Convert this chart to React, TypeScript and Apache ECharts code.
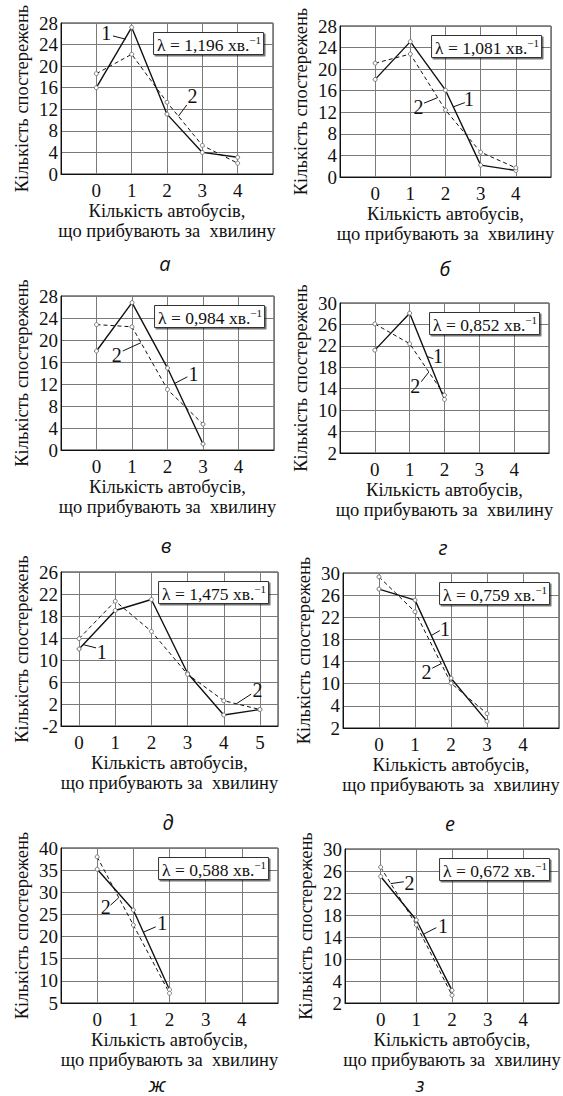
import React, { useEffect, useRef } from "react";
import * as echarts from "echarts";

// ---------- data ----------
const panelLetters = ["а", "б", "в", "г", "д", "е", "ж", "з"];
const lambdas = ["1,196", "1,081", "0,984", "0,852", "1,475", "0,759", "0,588", "0,672"];

const xLabels5 = ["0", "1", "2", "3", "4"];
const xLabels6 = ["0", "1", "2", "3", "4", "5"];

const yLabels0to28 = ["0", "4", "8", "12", "16", "20", "24", "28"];
const yLabels2to30 = ["2", "4", "10", "14", "18", "22", "26", "30"];
const yLabelsM2to26 = ["-2", "2", "6", "10", "14", "18", "22", "26"];
const yLabels5to40 = ["5", "10", "15", "20", "25", "30", "35", "40"];

// observed (1, solid) and theoretical (2, dashed)
const obsA = [16, 27.2, 11.1, 4.0, 3.1];
const theoA = [18.6, 22.2, 13.3, 5.3, 2.0];
const obsB = [18.1, 25.1, 16.1, 2.2, 1.2];
const theoB = [21.1, 22.8, 12.4, 4.6, 1.7];
const obsV = [18, 26.8, 14.9, 1.1];
const theoV = [22.8, 22.4, 11.0, 4.7];
const obsG = [21.2, 28.1, 12.0];
const theoG = [26.1, 22.4, 12.8];
const obsD = [12, 19, 21, 7.6, 0, 1];
const theoD = [13.9, 20.7, 15.2, 7.4, 2.6, 1.0];
const obsE = [27.1, 25.1, 11, 3.2];
const theoE = [29.3, 23.0, 10.1, 4.6];
const obsZh = [35.2, 26, 8];
const theoZh = [38, 22.6, 7.2];
const obsZ = [25, 17.1, 4.3];
const theoZ = [26.7, 16.2, 3.4];

// annotation: [labelX, labelY, leaderX1, leaderY1, leaderX2, leaderY2]
const notes1 = [
  [0.28, 26.1, 0.47, 25.6, 0.83, 25.0],
  [2.67, 14.4, 2.55, 13.8, 2.22, 13.0],
  [2.73, 13.8, 2.56, 13.3, 2.2, 12.1],
  [1.81, 20.1, 1.68, 19.6, 1.5, 20.0],
  [0.63, 11.5, 0.47, 12.2, 0.11, 12.8],
  [1.83, 19.9, 1.69, 19.6, 1.45, 18.7],
  [1.8, 23.0, 1.62, 22.2, 1.28, 21.0],
  [1.75, 16.0, 1.56, 15.7, 1.2, 14.5],
];
const notes2 = [
  [2.72, 14.4, 2.56, 12.8, 2.32, 10.7],
  [1.23, 13.0, 1.39, 13.7, 1.77, 14.7],
  [0.57, 17.2, 0.74, 18.0, 1.25, 19.5],
  [1.16, 14.5, 1.33, 15.3, 1.55, 17.1],
  [4.93, 4.5, 4.76, 3.8, 4.36, 2.1],
  [1.32, 12.1, 1.48, 12.8, 1.72, 13.6],
  [0.24, 26.6, 0.37, 27.1, 0.6, 28.8],
  [0.81, 23.9, 0.65, 24.05, 0.28, 23.7],
];

// ---------- layout ----------
const grids = [
  { left: 61, top: 23, width: 212, height: 151 },
  { left: 340, top: 26, width: 211, height: 151 },
  { left: 61, top: 296, width: 213, height: 154 },
  { left: 340, top: 303, width: 209, height: 150 },
  { left: 61, top: 572, width: 217, height: 154 },
  { left: 343, top: 573, width: 216, height: 155 },
  { left: 61, top: 848, width: 217, height: 155 },
  { left: 345, top: 849, width: 214, height: 154 },
];
const letterPos = [
  [165, 263], [445, 268], [166, 545], [443, 547],
  [168, 822], [450, 823], [157, 1084], [420, 1084],
];

const panels = [
  { obs: obsA, theo: theoA, yMin: 0, yMax: 28, yInt: 4, yLabels: yLabels0to28, xMin: -1, xMax: 5, xLabels: xLabels5 },
  { obs: obsB, theo: theoB, yMin: 0, yMax: 28, yInt: 4, yLabels: yLabels0to28, xMin: -1, xMax: 5, xLabels: xLabels5 },
  { obs: obsV, theo: theoV, yMin: 0, yMax: 28, yInt: 4, yLabels: yLabels0to28, xMin: -1, xMax: 5, xLabels: xLabels5 },
  { obs: obsG, theo: theoG, yMin: 2, yMax: 30, yInt: 4, yLabels: yLabels2to30, xMin: -1, xMax: 5, xLabels: xLabels5 },
  { obs: obsD, theo: theoD, yMin: -2, yMax: 26, yInt: 4, yLabels: yLabelsM2to26, xMin: -0.5, xMax: 5.5, xLabels: xLabels6 },
  { obs: obsE, theo: theoE, yMin: 2, yMax: 30, yInt: 4, yLabels: yLabels2to30, xMin: -1, xMax: 5, xLabels: xLabels5 },
  { obs: obsZh, theo: theoZh, yMin: 5, yMax: 40, yInt: 5, yLabels: yLabels5to40, xMin: -1, xMax: 5, xLabels: xLabels5 },
  { obs: obsZ, theo: theoZ, yMin: 2, yMax: 30, yInt: 4, yLabels: yLabels2to30, xMin: -1, xMax: 5, xLabels: xLabels5 },
];

const SERIF = "Liberation Serif";
const INK = "#111";

function annotation(n: number[], text: string) {
  return {
    markLine: {
      silent: true,
      symbol: ["none", "none"],
      label: { show: false },
      lineStyle: { color: INK, width: 1, type: "solid" },
      data: [[{ coord: [n[2], n[3]] }, { coord: [n[4], n[5]] }]],
    },
    markPoint: {
      silent: true,
      symbol: "circle",
      symbolSize: 1,
      itemStyle: { color: "rgba(0,0,0,0)" },
      label: {
        show: true,
        position: "inside",
        formatter: text,
        fontFamily: SERIF,
        fontSize: 20,
        color: INK,
      },
      data: [{ coord: [n[0], n[1]] }],
    },
  };
}

export default function App() {
  const ref = useRef<HTMLDivElement>(null);
  useEffect(() => {
    if (!ref.current) return;
    const chart = echarts.init(ref.current, null, { renderer: "svg" });

    const option: any = {
      animation: false,
      backgroundColor: "#fff",
      grid: grids.map((g) => ({
        ...g,
        show: true,
        borderColor: "#222",
        borderWidth: 1,
        backgroundColor: "transparent",
      })),
      xAxis: panels.map((p, i) => ({
        type: "value",
        gridIndex: i,
        min: p.xMin,
        max: p.xMax,
        minInterval: 1,
        maxInterval: 1,
        axisLine: { show: true, onZero: false, lineStyle: { color: INK, width: 1 } },
        axisTick: { show: false },
        splitLine: { show: true, lineStyle: { color: "#7a7a7a", width: 1 } },
        axisLabel: {
          margin: 7,
          fontFamily: SERIF,
          fontSize: 19,
          color: INK,
          showMinLabel: true,
          showMaxLabel: true,
          formatter: (v: number) =>
            Number.isInteger(v) && v >= 0 && v < p.xLabels.length ? p.xLabels[v] : "",
        },
        name: "Кількість автобусів,\nщо прибувають за  хвилину",
        nameLocation: "middle",
        nameGap: 25,
        nameTextStyle: { fontFamily: SERIF, fontSize: 18.5, lineHeight: 20, color: INK },
      })),
      yAxis: panels.map((p, i) => ({
        type: "value",
        gridIndex: i,
        min: p.yMin,
        max: p.yMax,
        interval: p.yInt,
        axisLine: { show: true, onZero: false, lineStyle: { color: INK, width: 1 } },
        axisTick: { show: false },
        splitLine: { show: true, lineStyle: { color: "#7a7a7a", width: 1 } },
        axisLabel: {
          margin: 3,
          fontFamily: SERIF,
          fontSize: 19,
          color: INK,
          formatter: (v: number) => {
            const k = Math.round((v - p.yMin) / p.yInt);
            return p.yLabels[k] ?? "";
          },
        },
        name: "Кількість спостережень",
        nameLocation: "middle",
        nameGap: 30,
        nameTextStyle: { fontFamily: SERIF, fontSize: 18.5, color: INK },
      })),
      title: grids.map((g, i) => ({
        text: `{a|λ = ${lambdas[i]} хв.}{s|−1}`,
        right: 563 - (g.left + g.width) + 9,
        top: g.top + 9,
        padding: [2, 3, 1, 4],
        backgroundColor: "#fff",
        borderColor: "#333",
        borderWidth: 1,
        shadowColor: "rgba(0,0,0,0.55)",
        shadowOffsetX: 1.5,
        shadowOffsetY: 1.5,
        shadowBlur: 0,
        textStyle: {
          fontWeight: "normal",
          rich: {
            a: { fontFamily: SERIF, fontSize: 17.5, fontWeight: "normal", lineHeight: 21, color: INK },
            s: { fontFamily: SERIF, fontSize: 11, fontWeight: "normal", lineHeight: 11, verticalAlign: "top", color: INK },
          },
        },
      })),
      graphic: panelLetters.map((t, i) => ({
        type: "text",
        x: letterPos[i][0],
        y: letterPos[i][1],
        style: {
          text: t,
          font: 'italic 20px "Open Sans"',
          textAlign: "center",
          textVerticalAlign: "middle",
          fill: INK,
        },
      })),
      series: panels.flatMap((p, i) => [
        {
          type: "line",
          name: "1",
          xAxisIndex: i,
          yAxisIndex: i,
          data: p.obs.map((v, k) => [k, v]),
          symbol: "circle",
          symbolSize: 4,
          showSymbol: true,
          itemStyle: { color: "#fff", borderColor: "#777", borderWidth: 1 },
          lineStyle: { color: INK, width: 1.4, type: "solid" },
          z: 3,
          ...annotation(notes1[i], "1"),
        },
        {
          type: "line",
          name: "2",
          xAxisIndex: i,
          yAxisIndex: i,
          data: p.theo.map((v, k) => [k, v]),
          symbol: "circle",
          symbolSize: 4,
          showSymbol: true,
          itemStyle: { color: "#fff", borderColor: "#777", borderWidth: 1 },
          lineStyle: { color: INK, width: 1, type: [4, 3] },
          z: 3,
          ...annotation(notes2[i], "2"),
        },
      ]),
    };

    chart.setOption(option);
    return () => chart.dispose();
  }, []);

  return (
    <div
      ref={ref}
      style={{ position: "absolute", left: 0, top: 0, width: 563, height: 1096, background: "#fff" }}
    />
  );
}
